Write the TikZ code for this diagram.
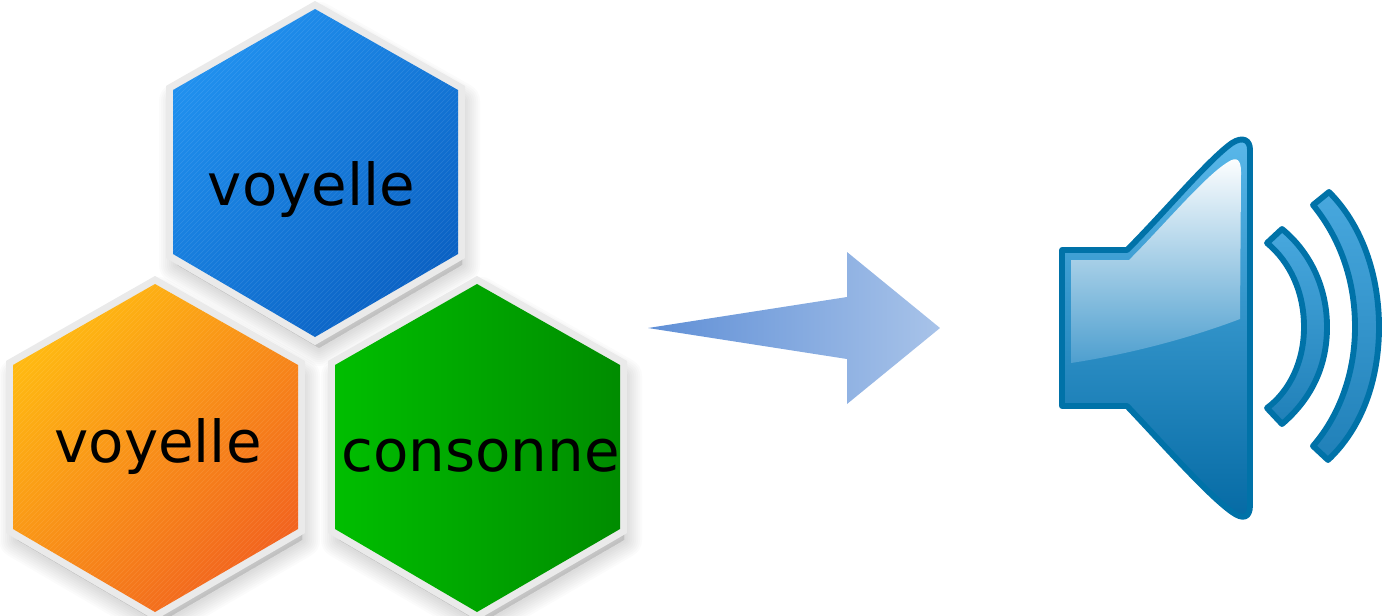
\documentclass[tikz,border=0pt]{standalone}
\usepackage{fontspec}
\setmainfont{DejaVu Sans}
\definecolor{spk}{HTML}{0072A8}
\definecolor{hexedge}{HTML}{EAEAEA}
\definecolor{orangeA}{HTML}{FFB912}
\definecolor{orangeB}{HTML}{F2641F}
\definecolor{blueA}{HTML}{2090EE}
\definecolor{blueB}{HTML}{0B62C4}
\definecolor{greenA}{HTML}{00BE00}
\definecolor{greenB}{HTML}{008C00}
\definecolor{arrowA}{HTML}{5F8FD6}
\definecolor{arrowB}{HTML}{A8C3E9}
\definecolor{spkTop}{HTML}{5AB8EA}
\definecolor{spkBot}{HTML}{056AA4}
\definecolor{glossBot}{HTML}{4E9FCF}
\definecolor{arcTop}{HTML}{48A8DE}
\definecolor{arcBot}{HTML}{2080B8}
\newcommand{\hexpath}{(0,0) -- (143,81) -- (143,245) -- (0,328) -- (-142,245) -- (-142,81) -- cycle}
\newcommand{\hexshadow}[2]{%
  \begin{scope}[shift={(#1,#2)}]
    \foreach \w in {4,8,...,36}{
      \draw[black,opacity=.014,line width=\w*.75pt,line join=round,fill=black,fill opacity=.014,shift={(4,11)}] \hexpath;
    }
  \end{scope}}
\newcommand{\hexbody}[5]{%
  \begin{scope}[shift={(#1,#2)}]
    \draw[hexedge,line width=10.5pt,line join=miter] \hexpath;
    \shade[left color=#3,right color=#4,shading angle=#5] \hexpath;
  \end{scope}}
\newcommand{\hexstripes}[2]{%
  \begin{scope}[shift={(#1,#2)}]
    \clip \hexpath;
    \foreach \k in {-400,-395,...,500}{
      \draw[white,opacity=.1,line width=.45pt] (\k-200,400) -- (\k+400,-200);
    }
  \end{scope}}
\begin{document}
\begin{tikzpicture}[x=.75pt,y=-.75pt,
  hexlabel/.style={font=\fontsize{43.4}{43.4}\selectfont,inner sep=0pt,text=black},
  speakerline/.style={draw=spk,line width=4.4pt,line join=round}]
\useasboundingbox (0,0) rectangle (1383,615);
\hexshadow{155}{284}
\hexshadow{477}{284}
\hexshadow{315}{9}
\hexbody{155}{284}{orangeA}{orangeB}{45}
\hexstripes{155}{284}
\hexbody{477}{284}{greenA}{greenB}{90}
\hexbody{315}{9}{blueA}{blueB}{45}
\hexstripes{315}{9}
\node[hexlabel] (v1) at (311.5,190) {voyelle};
\node[hexlabel] (v2) at (158,447) {voyelle};
\node[hexlabel] (c1) at (480.5,456) {consonne};
% arrow
\shade[left color=arrowA,right color=arrowB] (940,328) -- (847,252) -- (847,297) -- (648,328) -- (847,359) -- (847,404) -- cycle;
% speaker body
\draw[speakerline,top color=spkTop,bottom color=spkBot]
  (1062,250) -- (1127,250)
  .. controls (1165,212) and (1208,160) .. (1232,143)
  .. controls (1243,136) and (1250,140) .. (1250,150)
  -- (1250,505)
  .. controls (1250,518) and (1243,520) .. (1232,512)
  .. controls (1208,495) and (1165,446) .. (1127,406)
  -- (1062,406) -- cycle;
% gloss
\shade[top color=white,bottom color=glossBot]
  (1071,260) -- (1129,260)
  .. controls (1165,224) and (1205,176) .. (1228,162)
  .. controls (1237,156) and (1241,160) .. (1241,172)
  -- (1240,319)
  .. controls (1190,338) and (1130,354) .. (1071,363) -- cycle;
% small arc
\draw[speakerline,top color=arcTop,bottom color=arcBot]
  (1282,229) -- (1267,243)
  .. controls (1290,262) and (1304,292) .. (1304,327)
  .. controls (1304,361) and (1290,391) .. (1267,408)
  -- (1282,424)
  .. controls (1310,400) and (1327,368) .. (1327,327)
  .. controls (1327,287) and (1310,252) .. (1282,229) -- cycle;
% large arc
\draw[speakerline,top color=arcTop,bottom color=arcBot]
  (1329,192) -- (1313,205)
  .. controls (1340,238) and (1355,280) .. (1355,327)
  .. controls (1355,372) and (1340,415) .. (1313,446)
  -- (1328,460)
  .. controls (1362,428) and (1379,380) .. (1379,327)
  .. controls (1379,275) and (1362,225) .. (1329,192) -- cycle;
\end{tikzpicture}
\end{document}
